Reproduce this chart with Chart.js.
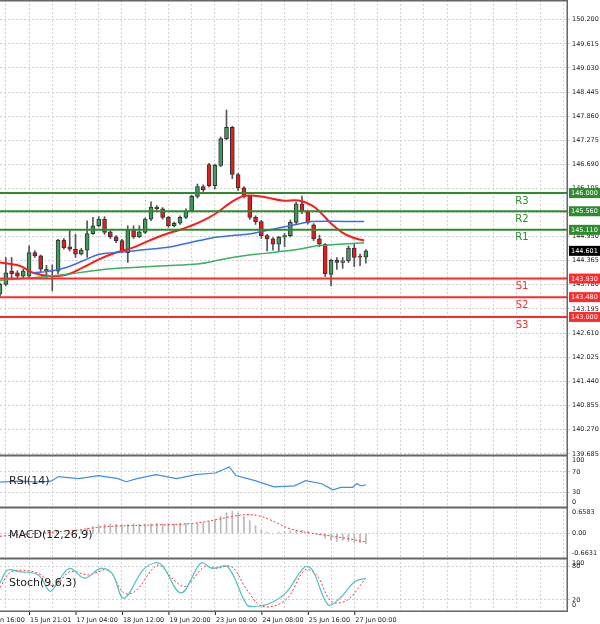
<!DOCTYPE html>
<html><head><meta charset="utf-8">
<script src="https://cdn.jsdelivr.net/npm/chart.js@4.4.0/dist/chart.umd.min.js"></script>
<style>
  body { margin:0; background:#fff; overflow:hidden; }
  #wrap { position:relative; width:600px; height:624px; overflow:hidden; }
  canvas { position:absolute; left:0; }
</style></head>
<body>
<div id="wrap">
  <canvas id="c-main"  width="600" height="468" style="top:-6px"></canvas>
  <canvas id="c-rsi"   width="600" height="65"  style="top:449px"></canvas>
  <canvas id="c-macd"  width="600" height="64"  style="top:501px"></canvas>
  <canvas id="c-stoch" width="600" height="73"  style="top:552px"></canvas>
</div>
<script>
/* ─── Data (4h candles, index = bar number) ─── */
const opens  = [143.55,143.79,144.11,144.07,143.99,143.99,144.56,144.48,144.11,144.11,144.11,144.86,144.70,144.64,144.52,144.62,145.02,145.21,145.37,145.06,144.94,144.85,144.56,145.10,144.94,145.05,145.37,145.66,145.62,145.41,145.21,145.27,145.41,145.57,145.92,146.16,146.69,146.18,146.67,147.32,147.59,146.45,146.13,145.92,145.41,145.31,144.97,144.89,144.76,144.93,144.97,145.29,145.74,145.55,145.23,144.89,144.76,144.03,144.37,144.32,144.36,144.67,144.47,144.45];
const highs  = [143.82,144.44,144.44,144.12,144.16,144.72,144.60,144.50,144.25,144.26,144.88,144.90,145.09,145.00,144.66,145.33,145.41,145.43,145.43,145.08,144.97,144.88,145.21,145.21,145.21,145.40,145.79,145.70,145.65,145.44,145.30,145.45,145.62,145.95,146.22,146.20,146.72,146.70,147.36,148.01,147.62,146.48,146.16,145.94,145.45,145.34,145.00,144.92,144.95,145.02,145.35,145.78,145.93,145.58,145.26,144.98,144.78,144.40,144.44,144.44,144.72,144.76,144.52,144.63];
const lows   = [143.50,143.75,143.95,143.95,143.95,143.95,144.44,144.10,143.95,143.63,144.05,144.64,144.60,144.44,144.50,144.44,145.00,145.18,145.00,144.90,144.80,144.56,144.32,144.90,144.92,145.02,145.33,145.58,145.37,145.17,145.18,145.24,145.38,145.55,145.88,146.04,146.15,146.10,146.64,147.29,146.35,146.06,145.88,145.36,145.24,144.90,144.60,144.62,144.60,144.70,144.94,145.25,145.50,145.25,144.85,144.70,143.98,143.75,144.15,144.18,144.32,144.22,144.24,144.30];
const closes = [143.79,144.07,144.05,143.99,144.11,144.56,144.48,144.16,144.16,144.13,144.86,144.68,144.64,144.52,144.62,145.02,145.21,145.37,145.05,144.94,144.85,144.60,145.10,144.94,145.06,145.37,145.66,145.62,145.41,145.21,145.27,145.41,145.57,145.92,146.16,146.08,146.18,146.67,147.32,147.59,146.45,146.13,145.92,145.41,145.31,144.97,144.89,144.76,144.93,144.97,145.29,145.74,145.57,145.29,144.89,144.76,144.05,144.37,144.32,144.36,144.67,144.44,144.45,144.60];

const maFastX = [0,3.4,5.7,8.6,11.4,14.3,17.1,20,22.9,25.7,28.6,31.4,34.3,37.1,39.4,41.7,43.4,45.7,48.6,51.4,53.7,55.4,57.1,58.9,60.6,62.7];
const maFastY = [144.32,144.24,144.07,143.99,144.02,144.20,144.40,144.56,144.68,144.85,145.01,145.13,145.29,145.50,145.74,145.92,145.94,145.90,145.82,145.82,145.70,145.50,145.25,145.05,144.93,144.85];
const maMidX  = [5.7,8.6,11.4,14.3,17.1,20,22.9,25.7,28.6,31.4,34.3,37.1,40,42.9,45.7,48.6,51.4,53.7,57.1,62.7];
const maMidY  = [144.07,144.11,144.20,144.36,144.52,144.56,144.60,144.64,144.68,144.76,144.85,144.93,144.97,145.01,145.09,145.17,145.25,145.31,145.32,145.31];
const maSlowX = [0,5.7,8.6,11.4,17.1,22.9,28.6,34.3,37.1,40,42.9,45.7,48.6,51.4,54.3,57.1,62.7];
const maSlowY = [143.89,143.95,143.99,144.03,144.14,144.20,144.24,144.29,144.36,144.44,144.50,144.54,144.59,144.64,144.72,144.75,144.80];

const levelNames  = ['R3','R2','R1','S1','S2','S3'];
const levelValues = [146.000,145.560,145.110,143.930,143.480,143.000];
const lastPrice   = 144.601;
const priceTicks  = [150.200,149.615,149.030,148.445,147.860,147.275,146.690,146.105,145.535,144.950,144.365,143.780,143.195,142.610,142.025,141.440,140.855,140.270,139.685];

const rsiX = [0,3.4,6.8,8.8,10.1,13.5,17,20.3,21.7,23.6,26.9,30.4,33.7,37.1,39.5,40.6,43.9,47.2,50.7,52.6,55.4,57.3,58.7,60.7,61.4,62.2,63];
const rsiY = [50,52,50,52,61,57,63,57,51,57,65,57,65,68,80,63,53,41,43,53,47,35,40,40,47,43,45];

const macdHist = [0,0,0,0,0,0,0,0,0,0,0,0,0,0.05,0.08,0.12,0.15,0.18,0.2,0.21,0.2,0.19,0.2,0.21,0.2,0.2,0.21,0.22,0.21,0.2,0.21,0.22,0.22,0.21,0.22,0.23,0.26,0.3,0.37,0.45,0.48,0.45,0.37,0.28,0.17,0.08,0.03,0,0.03,0.04,0.05,0.06,0.07,0.05,0,-0.03,-0.1,-0.15,-0.17,-0.15,-0.17,-0.19,-0.2,-0.22];
const macdSigX = [0,13.3,16.6,19.9,26.6,33.2,37.2,39.9,42.5,44.5,46.5,49.8,53.2,56.5,59.8,63];
const macdSigY = [-0.06,0.074,0.13,0.16,0.185,0.22,0.30,0.37,0.41,0.385,0.30,0.11,0.015,-0.044,-0.11,-0.185];

const stochX = [0,1.3,3.3,6.6,8.6,10,12,14.6,17.3,19.3,21.3,24.6,26.6,27.9,31.2,34.6,36.5,39.2,42.5,43.9,46.5,49.2,52.5,53.8,56.5,58.5,61.1,63];
const stochY = [52,76,73,67,37,55,79,61,79,70,24,76,89,85,34,89,79,82,12,9,15,34,82,76,12,24,55,61];
const stochSigX = [0,2,6.6,9.3,12,15.3,18.6,21.3,23.3,27.2,29.9,31.9,35.2,37.2,39.9,42.5,45.2,49.2,52.5,54.5,57.1,59.8,63];
const stochSigY = [44,73,70,46,73,67,76,34,37,85,58,46,82,79,82,40,9,21,76,67,18,21,61];

const timeTickX = [-3,5,13,21,29,37,45,53,61];
const timeLabels = ['15 Jun 16:00','15 Jun 21:01','17 Jun 04:00','18 Jun 12:00','19 Jun 20:00','23 Jun 00:00','24 Jun 08:00','25 Jun 16:00','27 Jun 00:00'];

/* ─── Shared bits ─── */
const X_MAX = 97.8;
const FONT = { family: 'DejaVu Sans', size: 6.5 };
const pts = (xs, ys) => xs.map((x, i) => ({ x, y: ys[i] }));

function xAxis(h) {
  return {
    type: 'linear', min: 0, max: X_MAX, offset: false,
    afterBuildTicks: s => { const t = []; for (let v = 1; v <= X_MAX; v += 4) t.push({ value: v }); s.ticks = t; },
    afterFit: s => { s.height = h; },
    ticks: { display: false },
    grid: { color: '#d0d0d0', drawTicks: false, offset: false },
    border: { display: false, dash: [2, 2] },
  };
}
function yAxis(min, max, tickVals, labelFn, gridFn) {
  return {
    position: 'right', min, max,
    afterBuildTicks: s => { s.ticks = tickVals.map(v => ({ value: v })); },
    afterFit: s => { s.width = 32; },
    ticks: { font: FONT, color: '#222', padding: 2, callback: labelFn },
    grid: { color: c => gridFn(c.tick && c.tick.value) ? '#d0d0d0' : 'rgba(0,0,0,0)', tickLength: 2, drawTicks: true },
    border: { display: false, dash: [2, 2] },
  };
}
// top, right and bottom edges of each panel (no left edge, as in the reference)
const framePlugin = {
  id: 'frame',
  afterDraw(chart) {
    const { ctx, chartArea: a } = chart;
    ctx.save();
    ctx.strokeStyle = '#666'; ctx.lineWidth = 1.5;
    ctx.beginPath();
    ctx.moveTo(a.left, a.top + 0.75);
    ctx.lineTo(a.right - 0.75, a.top + 0.75);
    ctx.lineTo(a.right - 0.75, a.bottom - 0.75);
    ctx.lineTo(a.left, a.bottom - 0.75);
    ctx.stroke();
    ctx.restore();
  },
};
function panelLabel(text, yOff) {
  return {
    id: 'label',
    afterDatasetsDraw(chart) {
      const ctx = chart.ctx;
      ctx.save();
      ctx.font = '11px "DejaVu Sans"'; ctx.fillStyle = '#222'; ctx.textBaseline = 'middle';
      ctx.fillText(text, 9, chart.chartArea.top + yOff);
      ctx.restore();
    },
  };
}
const baseOpts = { responsive: false, animation: false, layout: { padding: 0, autoPadding: false }, plugins: { legend: { display: false }, tooltip: { enabled: false } } };

/* ─── Main price panel ─── */
const UP = '#3c9e5c', DOWN = '#e81c1c';
const candleIdx = opens.map((_, i) => i);
const levelColor = n => n[0] === 'R' ? '#2e8b2e' : '#ff2a2a';

const badgePlugin = {
  id: 'badges',
  afterDraw(chart) {
    const { ctx, scales: { y }, chartArea: a } = chart;
    ctx.save();
    ctx.font = '6.5px "DejaVu Sans"'; ctx.textBaseline = 'middle';
    const badge = (v, bg) => {
      const py = y.getPixelForValue(v);
      ctx.fillStyle = bg; ctx.fillRect(a.right + 1, py - 5, 600 - a.right - 1, 10);
      ctx.fillStyle = '#fff'; ctx.fillText(v.toFixed(3), a.right + 3, py + 0.5);
    };
    levelValues.forEach((v, i) => badge(v, levelColor(levelNames[i])));
    badge(lastPrice, '#000');
    ctx.font = '10px "DejaVu Sans"'; ctx.textAlign = 'center';
    levelValues.forEach((v, i) => {
      ctx.fillStyle = levelColor(levelNames[i]);
      ctx.fillText(levelNames[i], 522, y.getPixelForValue(v) + 8);
    });
    ctx.restore();
  },
};

new Chart(document.getElementById('c-main'), {
  type: 'bar',
  data: {
    datasets: [
      ...levelValues.map((v, i) => ({
        type: 'line', data: [{ x: 0, y: v }, { x: X_MAX, y: v }],
        borderColor: levelColor(levelNames[i]), borderWidth: 2, pointRadius: 0, order: 0,
      })),
      { type: 'line', data: pts(maSlowX, maSlowY), borderColor: '#3cb063', borderWidth: 1.5, pointRadius: 0, tension: 0.4, order: 0 },
      { type: 'line', data: pts(maMidX, maMidY),   borderColor: '#3a6ee8', borderWidth: 1.5, pointRadius: 0, tension: 0.4, order: 0 },
      { type: 'line', data: pts(maFastX, maFastY), borderColor: '#ff1a1a', borderWidth: 2,   pointRadius: 0, tension: 0.4, order: 0 },
      { data: candleIdx.map(i => ({ x: i, y: [lows[i], highs[i]] })),
        backgroundColor: '#555', barThickness: 1, grouped: false, order: 3 },
      { data: candleIdx.map(i => ({ x: i, y: [opens[i], closes[i]] })),
        backgroundColor: candleIdx.map(i => closes[i] >= opens[i] ? UP : DOWN),
        borderColor: '#333', borderWidth: 1, borderSkipped: false, barThickness: 4, minBarLength: 1, grouped: false, order: 2 },
    ],
  },
  options: {
    ...baseOpts,
    scales: {
      x: xAxis(0),
      y: yAxis(139.63, 150.679, priceTicks, v => v.toFixed(3), () => true),
    },
  },
  plugins: [framePlugin, badgePlugin],
});

/* ─── RSI ─── */
const RSI_LBL = { 92: '100', 70: '70', 30: '30', 11: '0' };
new Chart(document.getElementById('c-rsi'), {
  type: 'line',
  data: { datasets: [{ data: pts(rsiX, rsiY), borderColor: '#3d8fe8', borderWidth: 1.2, pointRadius: 0 }] },
  options: { ...baseOpts, scales: { x: xAxis(0), y: yAxis(-0.6, 103.4, [92, 70, 30, 11], v => RSI_LBL[v], v => v === 70 || v === 30) } },
  plugins: [framePlugin, panelLabel('RSI(14)', 26)],
});

/* ─── MACD ─── */
const MACD_LBL = { 0.45: '0.6583', 0: '0.00', '-0.43': '-0.6631' };
new Chart(document.getElementById('c-macd'), {
  type: 'bar',
  data: {
    datasets: [
      { type: 'line', data: pts(macdSigX, macdSigY), borderColor: '#ff3030', borderWidth: 1, borderDash: [2, 2], pointRadius: 0, tension: 0.4, order: 0 },
      { data: macdHist.map((v, i) => ({ x: i, y: v })), backgroundColor: '#b8b8b8', barThickness: 1, order: 1 },
    ],
  },
  options: { ...baseOpts, scales: { x: xAxis(0), y: yAxis(-0.556, 0.578, [0.45, 0, -0.43], v => MACD_LBL[v], v => v === 0) } },
  plugins: [framePlugin, panelLabel('MACD(12,26,9)', 28)],
});

/* ─── Stochastic + time axis ─── */
const ST_LBL = { 89: '100', 82: '80', 21: '20', 11: '0' };
const timePlugin = {
  id: 'time',
  afterDraw(chart) {
    const { ctx, scales: { x }, chartArea: a } = chart;
    ctx.save();
    ctx.font = '6.5px "DejaVu Sans"'; ctx.fillStyle = '#222'; ctx.textBaseline = 'middle';
    timeTickX.forEach((t, i) => {
      const px = x.getPixelForValue(t);
      ctx.fillRect(px, a.bottom, 1, 3);
      ctx.fillText(timeLabels[i], px + 1, a.bottom + 8);
    });
    ctx.restore();
  },
};
new Chart(document.getElementById('c-stoch'), {
  type: 'line',
  data: {
    datasets: [
      { data: pts(stochX, stochY), borderColor: '#4cc4c4', borderWidth: 1.2, pointRadius: 0, tension: 0.35 },
      { data: pts(stochSigX, stochSigY), borderColor: '#ff3030', borderWidth: 1, borderDash: [2, 2], pointRadius: 0, tension: 0.35 },
    ],
  },
  options: { ...baseOpts, scales: { x: xAxis(13), y: yAxis(-1.1, 98.3, [89, 82, 21, 11], v => ST_LBL[v], v => v === 82 || v === 21) } },
  plugins: [framePlugin, timePlugin, panelLabel('Stoch(9,6,3)', 25)],
});
</script>
</body></html>
